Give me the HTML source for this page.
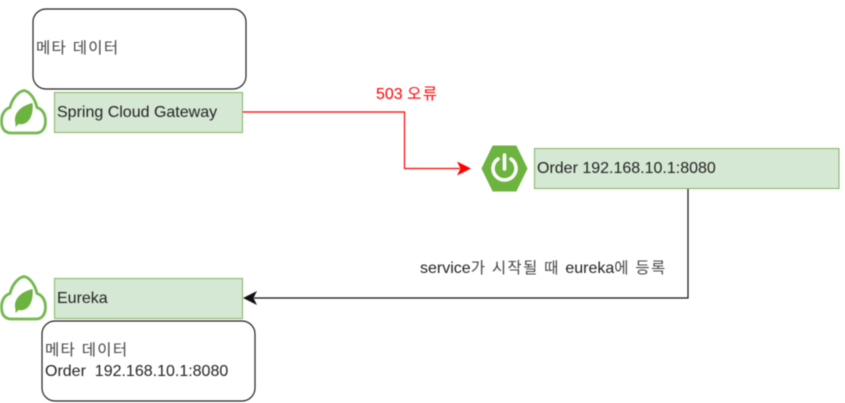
<!DOCTYPE html>
<html><head><meta charset="utf-8"><style>
html,body{margin:0;padding:0;background:#fff;width:845px;height:403px;overflow:hidden}
svg{display:block;filter:blur(.45px)}
text{font-family:"Liberation Sans","Noto Sans CJK KR",sans-serif;font-size:16px;fill:#222}
.k{font-size:15.500px;letter-spacing:1.300px;fill:#444}
</style></head><body>
<svg width="845" height="403" viewBox="0 0 845 403" xmlns="http://www.w3.org/2000/svg">
<defs>
<g id="cloud">
<path d="M11 44 C3 44 1.500 37 1.500 32 C1.500 25 5 20 10 18.500 C12 10 18 2.500 24 1.500 C30 2.500 35 10 37 18.500 C42 20 45.500 25 45.500 32 C45.500 38 43 44 36 44 Z" fill="#fff" stroke="#74b84f" stroke-width="2.800" stroke-linejoin="round"/>
<path d="M15.500 34 C13 25 20 17 32.500 14 C34 27 28 37 18.500 35 L15.500 38 Z" fill="#6cb33f"/>
</g>
</defs>
<rect x="33" y="9" width="213" height="80" rx="13" fill="#fff" stroke="#222" stroke-width="1.200"/>
<text x="36" y="53" class="k">메타 데이터</text>
<use href="#cloud" x="0" y="89"/>
<rect x="54.500" y="92.500" width="188" height="40" fill="#d5e8d4" stroke="#82b366"/>
<text x="57" y="117">Spring Cloud Gateway</text>
<path d="M243 112 H404.500 V168.500 H460" fill="none" stroke="#f00" stroke-width="1.200"/>
<path d="M471 168.500 L457 161.500 L460.500 168.500 L457 175.500 Z" fill="#f00"/>
<text x="376" y="99" style="fill:#f00">503 <tspan class="k" style="fill:#f00">오류</tspan></text>
<path d="M482 168.500 L493 146 H516 L527 168.500 L516 191 H493 Z" fill="#6cb33f" stroke="#6cb33f" stroke-width="1" stroke-linejoin="round"/>
<path d="M498 159 A11.500 11.500 0 1 0 511 159" fill="none" stroke="#fff" stroke-width="3.600" stroke-linecap="round"/>
<line x1="504.500" y1="155" x2="504.500" y2="169" stroke="#fff" stroke-width="3.600" stroke-linecap="round"/>
<rect x="534.500" y="148.500" width="304.500" height="40" fill="#d5e8d4" stroke="#82b366"/>
<text x="537" y="173">Order 192.168.10.1:8080</text>
<path d="M688 189 V298 H254" fill="none" stroke="#111" stroke-width="1.200"/>
<path d="M243 298 L257 291 L253.500 298 L257 305 Z" fill="#111"/>
<text x="420" y="273">service<tspan class="k">가 시작될 때 </tspan>eureka<tspan class="k">에 등록</tspan></text>
<use href="#cloud" x="0" y="275"/>
<rect x="54.500" y="278.500" width="188" height="40" fill="#d5e8d4" stroke="#82b366"/>
<text x="57" y="303">Eureka</text>
<rect x="42" y="321" width="213" height="80" rx="13" fill="#fff" stroke="#222" stroke-width="1.200"/>
<text x="45" y="355" class="k">메타 데이터</text>
<text x="45" y="376" xml:space="preserve">Order  192.168.10.1:8080</text>
</svg>
</body></html>
